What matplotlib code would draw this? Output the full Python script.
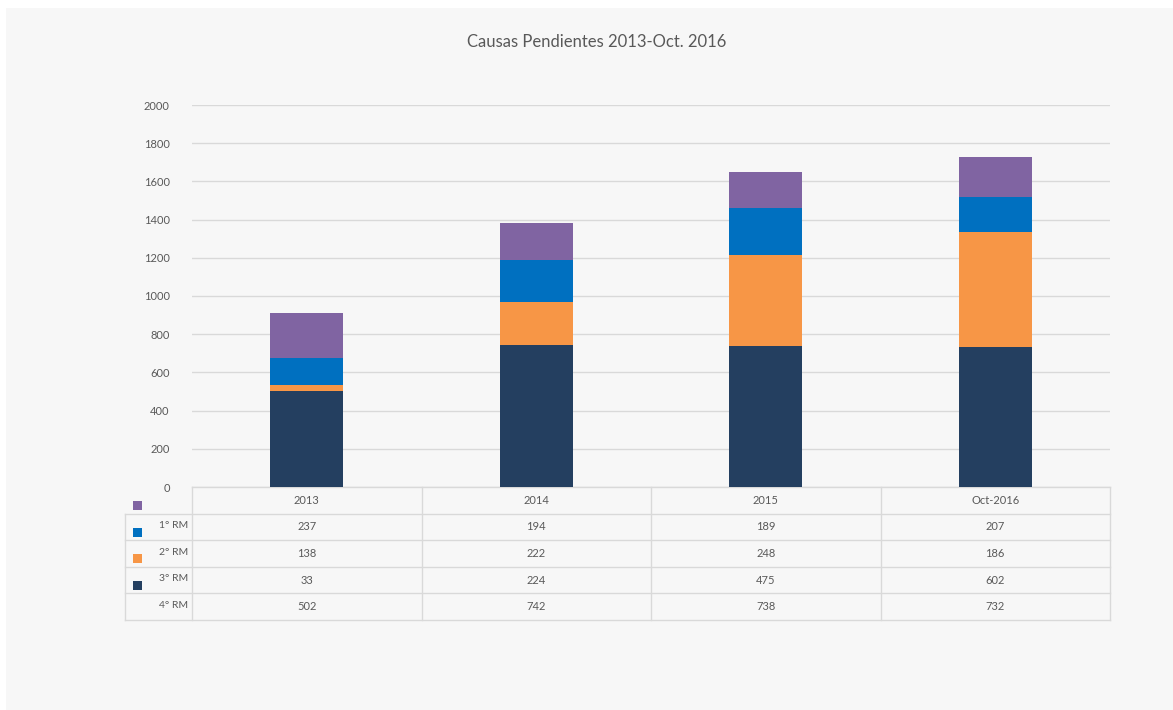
import matplotlib
matplotlib.use("Agg")
import matplotlib.pyplot as plt
from matplotlib.patches import Rectangle
import numpy as np

plt.rcParams['font.family'] = ['Lato', 'DejaVu Sans']

title = "Causas Pendientes 2013-Oct. 2016"
categories = ['2013', '2014', '2015', 'Oct-2016']
rm4 = [502, 742, 738, 732]
rm3 = [33, 224, 475, 602]
rm2 = [138, 222, 248, 186]
rm1 = [237, 194, 189, 207]
row_labels = ['1° RM', '2° RM', '3° RM', '4° RM']
yticks = [0, 200, 400, 600, 800, 1000, 1200, 1400, 1600, 1800, 2000]

c_navy = '#243f60'
c_orange = '#f79646'
c_blue = '#0070c0'
c_purple = '#8064a2'
txt = '#595959'
grid = '#d9d9d9'

W, H = 1173, 710
fig = plt.figure(figsize=(W / 100, H / 100), dpi=100, facecolor='white')
fig.patches.append(Rectangle((6 / W, 0), 1 - 6 / W, 1 - 8 / H,
                             transform=fig.transFigure, facecolor='#f7f7f7',
                             edgecolor='none', zorder=-10))

left, right, bottom, top = 192, 1110, 487, 105
ax = fig.add_axes([left / W, 1 - bottom / H, (right - left) / W, (bottom - top) / H])
ax.set_facecolor('none')

x = np.arange(len(categories))
bw = 0.32
series = [(rm4, c_navy), (rm3, c_orange), (rm2, c_blue), (rm1, c_purple)]
base = np.zeros(len(categories))
for vals, col in series:
    ax.bar(x, vals, bw, bottom=base, color=col, zorder=3, linewidth=0)
    base += np.array(vals)

ax.set_xlim(-0.5, len(categories) - 0.5)
ax.set_ylim(0, 2000)
ax.set_yticks(yticks)
ax.set_yticklabels([str(v) for v in yticks], fontsize=8, color=txt)
ax.tick_params(axis='y', length=0, pad=16)
ax.set_xticks([])
ax.yaxis.grid(True, color=grid, linewidth=1.0, zorder=0)
for s in ax.spines.values():
    s.set_visible(False)

fig.text(0.509, 1 - 42 / H, title, ha='center', va='center', fontsize=12, color=txt)

# data table below the axes
ah = bottom - top
rh = 26.6 / ah
lx = (125 - left) / (right - left)
lc = dict(color=grid, linewidth=1.0, clip_on=False, transform=ax.transAxes)
nrows = len(row_labels)
# horizontal lines
ax.plot([0, 1], [0, 0], **lc)
for k in range(1, nrows + 2):
    ax.plot([lx, 1], [-k * rh, -k * rh], **lc)
# vertical lines
ax.plot([lx, lx], [-rh, -(nrows + 1) * rh], **lc)
for xc in np.linspace(0, 1, len(categories) + 1):
    ax.plot([xc, xc], [0, -(nrows + 1) * rh], **lc)

xt = ax.get_xaxis_transform()
for i, c in enumerate(categories):
    ax.text(i, -0.5 * rh, c, transform=xt, ha='center', va='center',
            fontsize=8, color=txt, clip_on=False)
rows = [rm1, rm2, rm3, rm4]
for r, vals in enumerate(rows):
    for i, v in enumerate(vals):
        ax.text(i, -(r + 1.5) * rh, str(v), transform=xt, ha='center',
                va='center', fontsize=8, color=txt, clip_on=False)

# row labels and legend keys (as in the original, keys are offset one row)
lab_x = (188 - left) / (right - left)
key_x = (137 - left) / (right - left)
for r, lab in enumerate(row_labels):
    ax.text(lab_x, -(r + 1.45) * rh, lab, transform=ax.transAxes, ha='right',
            va='center', fontsize=7.5, color=txt, clip_on=False)
keys = [c_purple, c_blue, c_orange, c_navy]
ks = 9 / (right - left)
ksh = 9 / ah
for r, col in enumerate(keys):
    yc = -(r + 0.7) * rh
    ax.add_patch(Rectangle((key_x - ks / 2, yc - ksh / 2), ks, ksh,
                           transform=ax.transAxes, facecolor=col,
                           edgecolor='none', clip_on=False))

fig.savefig('out.png', dpi=100, facecolor=fig.get_facecolor())
